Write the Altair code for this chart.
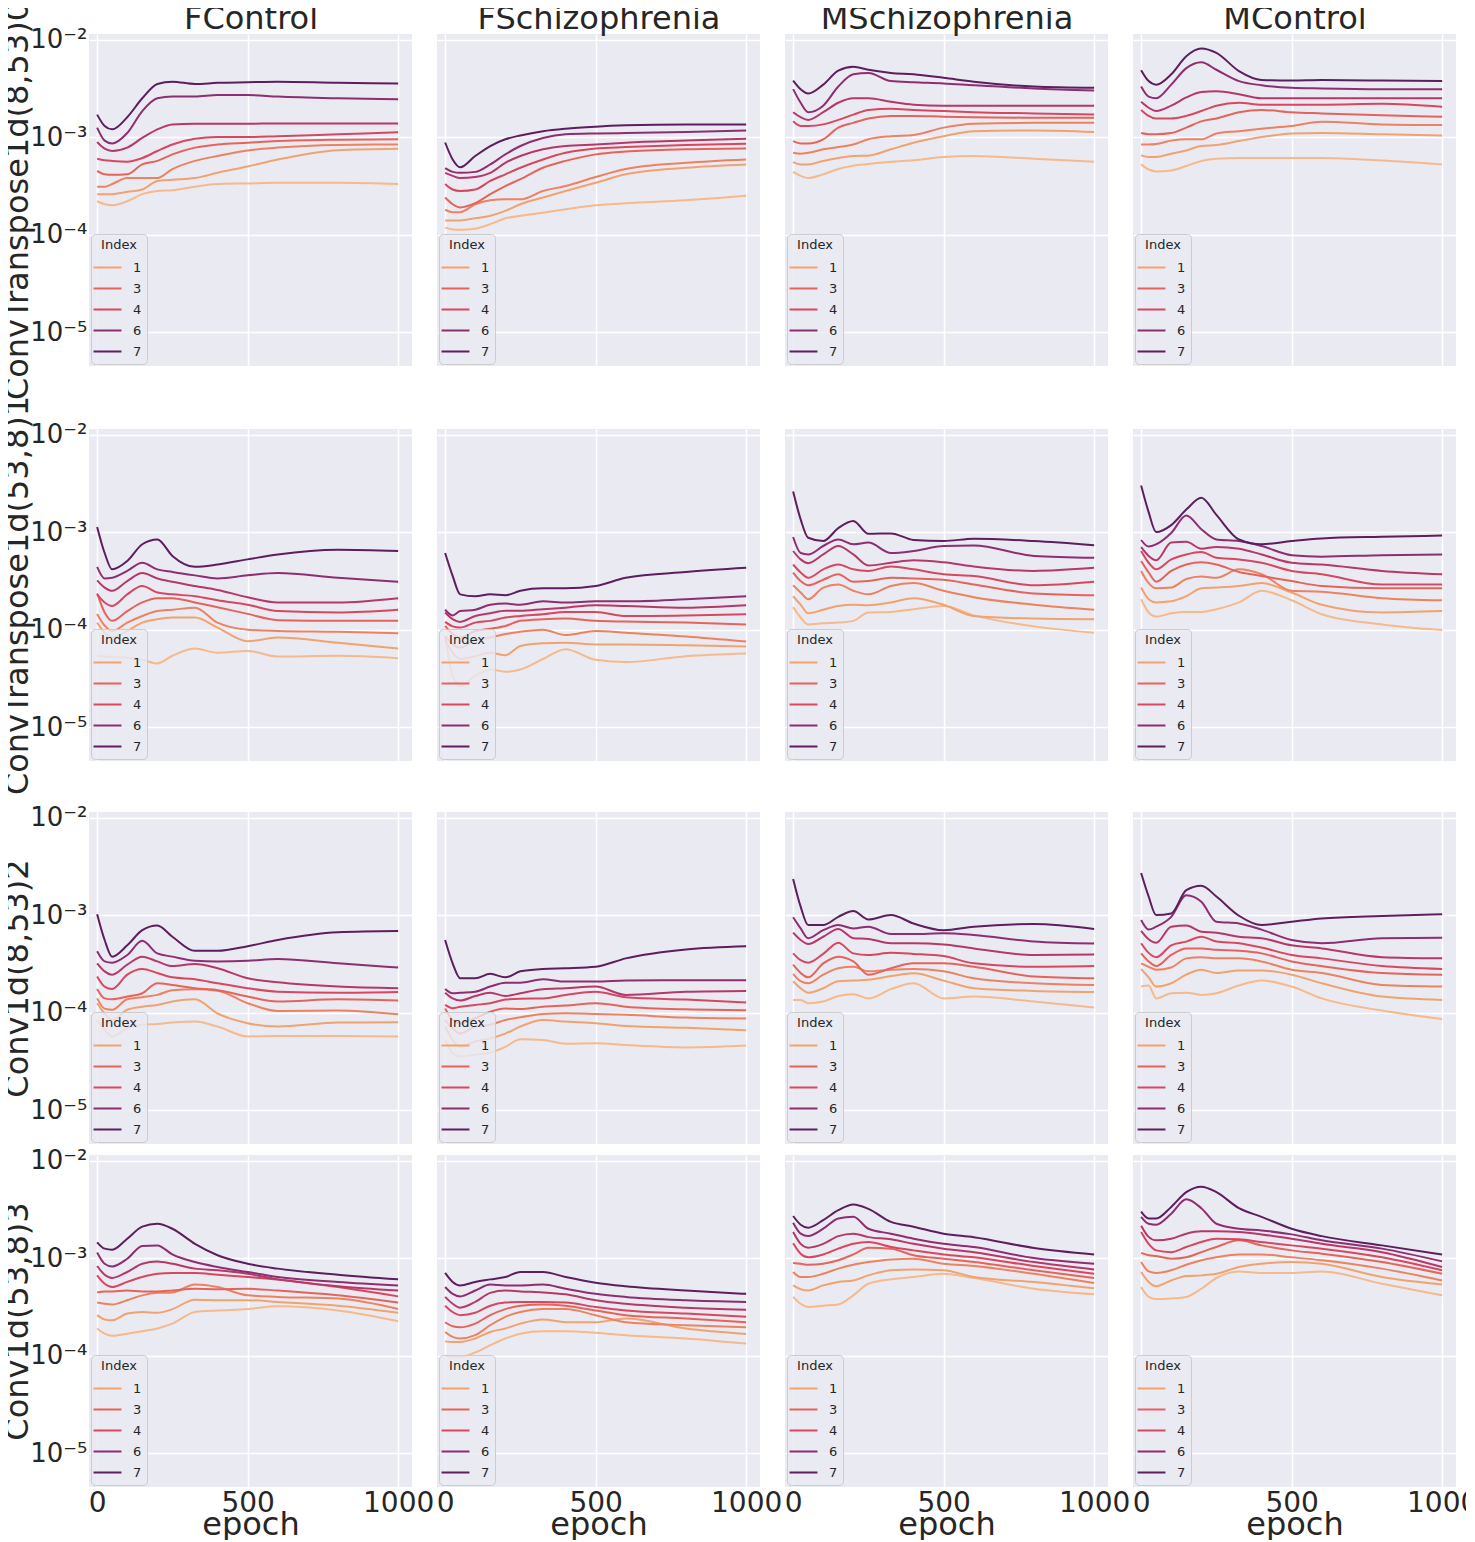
import altair as alt
import pandas as pd

# ---------------------------------------------------------------- labels
COLUMNS = ["FControl", "FSchizophrenia", "MSchizophrenia", "MControl"]
LAYERS = ["ConvTranspose1d(8,53)0", "ConvTranspose1d(53,8)1", "Conv1d(8,53)2", "Conv1d(53,8)3"]
EPOCHS = [0, 25, 50, 100, 150, 200, 250, 325, 400, 500, 600, 800, 1000]
INDEX_LEVELS = [0, 1, 2, 3, 4, 5, 6, 7]
LEGEND_VALUES = [1, 3, 4, 6, 7]
PALETTE = ["#f5b98b", "#f2a26f", "#ed8160", "#e6635a", "#d8465f", "#b73768", "#8e2d70", "#5c1e5d"]
X_TICKS = [0, 500, 1000]
Y_TICKS = [1e-5, 1e-4, 1e-3, 1e-2]
Y_TICK_LABELS = ["10⁻⁵", "10⁻⁴", "10⁻³", "10⁻²"]
Y_DOMAIN = [4.5e-6, 1.14e-2]
X_DOMAIN = [-27, 1046]

# ---------------------------------------------------------------- data (Index -> values at EPOCHS)
L0_FControl = {
    0: [2.2e-4, 2.05e-4, 2.0e-4, 2.2e-4, 2.6e-4, 2.8e-4, 2.85e-4, 3.1e-4, 3.3e-4, 3.35e-4, 3.4e-4, 3.4e-4, 3.3e-4],
    1: [2.6e-4, 2.6e-4, 2.6e-4, 2.75e-4, 2.9e-4, 3.55e-4, 3.65e-4, 3.8e-4, 4.3e-4, 5.0e-4, 5.9e-4, 7.35e-4, 7.6e-4],
    2: [3.1e-4, 3.1e-4, 3.3e-4, 3.8e-4, 3.8e-4, 3.8e-4, 4.7e-4, 5.7e-4, 6.4e-4, 7.3e-4, 7.8e-4, 8.3e-4, 8.4e-4],
    3: [4.5e-4, 4.15e-4, 4.1e-4, 4.15e-4, 5.25e-4, 5.7e-4, 6.65e-4, 7.8e-4, 8.4e-4, 8.75e-4, 9.1e-4, 9.4e-4, 9.5e-4],
    4: [6.0e-4, 5.8e-4, 5.7e-4, 5.6e-4, 6.1e-4, 7.2e-4, 8.4e-4, 9.6e-4, 1.0e-3, 1.0e-3, 1.02e-3, 1.07e-3, 1.12e-3],
    5: [8.9e-4, 7.6e-4, 7.2e-4, 7.8e-4, 9.8e-4, 1.2e-3, 1.35e-3, 1.37e-3, 1.37e-3, 1.37e-3, 1.38e-3, 1.38e-3, 1.38e-3],
    6: [1.25e-3, 9.2e-4, 8.6e-4, 1.1e-3, 1.85e-3, 2.5e-3, 2.6e-3, 2.6e-3, 2.7e-3, 2.7e-3, 2.6e-3, 2.5e-3, 2.45e-3],
    7: [1.7e-3, 1.3e-3, 1.2e-3, 1.6e-3, 2.5e-3, 3.5e-3, 3.7e-3, 3.5e-3, 3.6e-3, 3.65e-3, 3.7e-3, 3.6e-3, 3.55e-3],
}
L0_FSchizophrenia = {
    0: [1.18e-4, 1.13e-4, 1.12e-4, 1.15e-4, 1.28e-4, 1.47e-4, 1.56e-4, 1.68e-4, 1.82e-4, 2.0e-4, 2.1e-4, 2.25e-4, 2.5e-4],
    1: [1.4e-4, 1.4e-4, 1.4e-4, 1.47e-4, 1.56e-4, 1.75e-4, 2.05e-4, 2.4e-4, 2.8e-4, 3.4e-4, 4.15e-4, 4.85e-4, 5.25e-4],
    2: [1.8e-4, 1.7e-4, 1.7e-4, 2.05e-4, 2.25e-4, 2.3e-4, 2.3e-4, 2.8e-4, 3.15e-4, 3.9e-4, 4.7e-4, 5.45e-4, 5.9e-4],
    3: [2.4e-4, 2.05e-4, 1.9e-4, 2.1e-4, 2.6e-4, 3.15e-4, 3.7e-4, 4.85e-4, 5.7e-4, 6.65e-4, 7.1e-4, 7.5e-4, 7.65e-4],
    4: [3.3e-4, 2.9e-4, 2.8e-4, 2.9e-4, 3.55e-4, 4.15e-4, 4.85e-4, 5.9e-4, 6.9e-4, 7.65e-4, 7.9e-4, 8.3e-4, 8.55e-4],
    5: [4.3e-4, 4.0e-4, 3.8e-4, 3.9e-4, 4.3e-4, 5.45e-4, 6.4e-4, 7.5e-4, 8.1e-4, 8.4e-4, 8.75e-4, 9.2e-4, 9.6e-4],
    6: [4.8e-4, 4.4e-4, 4.3e-4, 4.4e-4, 5.25e-4, 6.65e-4, 8.1e-4, 9.8e-4, 1.07e-3, 1.09e-3, 1.1e-3, 1.13e-3, 1.17e-3],
    7: [8.8e-4, 5.9e-4, 4.9e-4, 6.4e-4, 8.1e-4, 9.5e-4, 1.04e-3, 1.15e-3, 1.22e-3, 1.28e-3, 1.32e-3, 1.35e-3, 1.35e-3],
}
L0_MSchizophrenia = {
    0: [4.4e-4, 4.0e-4, 3.8e-4, 4.15e-4, 4.7e-4, 5.1e-4, 5.3e-4, 5.6e-4, 5.8e-4, 6.25e-4, 6.4e-4, 6.0e-4, 5.6e-4],
    1: [5.55e-4, 5.25e-4, 5.25e-4, 5.7e-4, 6.1e-4, 6.4e-4, 6.45e-4, 7.5e-4, 8.75e-4, 1.02e-3, 1.15e-3, 1.17e-3, 1.13e-3],
    2: [6.9e-4, 6.75e-4, 6.9e-4, 7.5e-4, 7.9e-4, 8.4e-4, 9.5e-4, 1.02e-3, 1.05e-3, 1.25e-3, 1.37e-3, 1.4e-3, 1.4e-3],
    3: [9.1e-4, 8.6e-4, 8.6e-4, 9.5e-4, 1.25e-3, 1.4e-3, 1.55e-3, 1.65e-3, 1.65e-3, 1.62e-3, 1.6e-3, 1.58e-3, 1.58e-3],
    4: [1.45e-3, 1.3e-3, 1.3e-3, 1.35e-3, 1.5e-3, 1.7e-3, 1.9e-3, 1.95e-3, 1.9e-3, 1.85e-3, 1.8e-3, 1.75e-3, 1.7e-3],
    5: [1.8e-3, 1.6e-3, 1.5e-3, 1.8e-3, 2.25e-3, 2.5e-3, 2.5e-3, 2.3e-3, 2.15e-3, 2.1e-3, 2.1e-3, 2.1e-3, 2.1e-3],
    6: [3.1e-3, 2.25e-3, 1.8e-3, 2.1e-3, 3.3e-3, 4.4e-3, 4.55e-3, 3.75e-3, 3.65e-3, 3.55e-3, 3.4e-3, 3.15e-3, 3.0e-3],
    7: [3.8e-3, 3.1e-3, 2.8e-3, 3.45e-3, 4.8e-3, 5.25e-3, 4.9e-3, 4.55e-3, 4.4e-3, 4.05e-3, 3.7e-3, 3.3e-3, 3.2e-3],
}
L0_MControl = {
    0: [5.25e-4, 4.65e-4, 4.45e-4, 4.55e-4, 5.05e-4, 5.7e-4, 6.0e-4, 6.1e-4, 6.1e-4, 6.1e-4, 6.1e-4, 5.75e-4, 5.25e-4],
    1: [6.5e-4, 6.25e-4, 6.25e-4, 6.75e-4, 7.3e-4, 8.1e-4, 8.3e-4, 9.1e-4, 1.0e-3, 1.09e-3, 1.1e-3, 1.07e-3, 1.04e-3],
    2: [8.4e-4, 8.4e-4, 8.5e-4, 9.2e-4, 9.5e-4, 9.5e-4, 1.09e-3, 1.15e-3, 1.22e-3, 1.3e-3, 1.44e-3, 1.35e-3, 1.33e-3],
    3: [1.1e-3, 1.07e-3, 1.07e-3, 1.1e-3, 1.25e-3, 1.45e-3, 1.55e-3, 1.8e-3, 1.9e-3, 1.8e-3, 1.75e-3, 1.67e-3, 1.62e-3],
    4: [1.9e-3, 1.65e-3, 1.55e-3, 1.55e-3, 1.65e-3, 1.85e-3, 2.1e-3, 2.25e-3, 2.15e-3, 2.15e-3, 2.15e-3, 2.2e-3, 2.05e-3],
    5: [2.3e-3, 2.0e-3, 1.85e-3, 2.1e-3, 2.55e-3, 2.9e-3, 2.95e-3, 2.75e-3, 2.5e-3, 2.5e-3, 2.5e-3, 2.5e-3, 2.5e-3],
    6: [3.3e-3, 2.6e-3, 2.5e-3, 3.45e-3, 5.1e-3, 5.85e-3, 4.9e-3, 3.75e-3, 3.4e-3, 3.2e-3, 3.15e-3, 3.1e-3, 3.1e-3],
    7: [4.85e-3, 3.75e-3, 3.45e-3, 4.4e-3, 6.75e-3, 8.1e-3, 7.3e-3, 4.75e-3, 3.85e-3, 3.8e-3, 3.85e-3, 3.8e-3, 3.75e-3],
}

L1_FControl = {
    0: [5.4e-5, 5.3e-5, 5.25e-5, 5.15e-5, 4.9e-5, 4.5e-5, 5.4e-5, 6.4e-5, 5.8e-5, 6.05e-5, 5.3e-5, 5.4e-5, 5.1e-5],
    1: [1.18e-4, 9.3e-5, 8.3e-5, 9.7e-5, 1.18e-4, 1.28e-4, 1.33e-4, 1.33e-4, 1.05e-4, 7.6e-5, 8.3e-5, 7.35e-5, 6.4e-5],
    2: [1.45e-4, 1.1e-4, 9.7e-5, 1.18e-4, 1.38e-4, 1.55e-4, 1.6e-4, 1.68e-4, 1.18e-4, 1.0e-4, 9.7e-5, 9.5e-5, 9.2e-5],
    3: [2.35e-4, 1.5e-4, 1.23e-4, 1.55e-4, 1.9e-4, 2.1e-4, 2.1e-4, 1.9e-4, 1.7e-4, 1.45e-4, 1.25e-4, 1.23e-4, 1.23e-4],
    4: [2.3e-4, 1.9e-4, 1.75e-4, 2.3e-4, 2.8e-4, 2.4e-4, 2.3e-4, 2.2e-4, 2.0e-4, 1.8e-4, 1.55e-4, 1.5e-4, 1.6e-4],
    5: [3.2e-4, 2.7e-4, 2.5e-4, 3.15e-4, 3.8e-4, 3.35e-4, 3.1e-4, 2.8e-4, 2.55e-4, 2.15e-4, 1.9e-4, 1.9e-4, 2.1e-4],
    6: [4.4e-4, 3.35e-4, 3.4e-4, 4.0e-4, 4.85e-4, 4.15e-4, 3.9e-4, 3.6e-4, 3.35e-4, 3.6e-4, 3.8e-4, 3.4e-4, 3.1e-4],
    7: [1.13e-3, 6.1e-4, 4.15e-4, 5.05e-4, 7.5e-4, 8.4e-4, 5.7e-4, 4.4e-4, 4.65e-4, 5.25e-4, 5.9e-4, 6.6e-4, 6.4e-4],
}
L1_FSchizophrenia = {
    0: [8.6e-5, 3.35e-5, 2.65e-5, 3.35e-5, 3.9e-5, 3.7e-5, 3.9e-5, 5.0e-5, 6.3e-5, 4.9e-5, 4.65e-5, 5.35e-5, 5.7e-5],
    1: [7.95e-5, 5.8e-5, 5.0e-5, 5.35e-5, 5.8e-5, 5.45e-5, 6.8e-5, 7.25e-5, 7.35e-5, 7.05e-5, 7.05e-5, 6.9e-5, 6.7e-5],
    2: [8.6e-5, 7.1e-5, 6.55e-5, 7.85e-5, 8.3e-5, 9.0e-5, 9.5e-5, 1.0e-4, 8.8e-5, 9.7e-5, 9.3e-5, 8.5e-5, 7.55e-5],
    3: [1.09e-4, 9.0e-5, 8.3e-5, 9.7e-5, 1.02e-4, 1.09e-4, 1.23e-4, 1.28e-4, 1.3e-4, 1.23e-4, 1.21e-4, 1.18e-4, 1.13e-4],
    4: [1.2e-4, 1.08e-4, 1.05e-4, 1.18e-4, 1.23e-4, 1.33e-4, 1.38e-4, 1.44e-4, 1.52e-4, 1.52e-4, 1.38e-4, 1.4e-4, 1.44e-4],
    5: [1.5e-4, 1.28e-4, 1.2e-4, 1.38e-4, 1.47e-4, 1.56e-4, 1.56e-4, 1.62e-4, 1.68e-4, 1.78e-4, 1.75e-4, 1.68e-4, 1.78e-4],
    6: [1.6e-4, 1.4e-4, 1.55e-4, 1.6e-4, 1.8e-4, 1.85e-4, 1.8e-4, 1.95e-4, 1.9e-4, 1.95e-4, 1.95e-4, 2.05e-4, 2.2e-4],
    7: [6.1e-4, 3.55e-4, 2.3e-4, 2.2e-4, 2.3e-4, 2.25e-4, 2.5e-4, 2.65e-4, 2.65e-4, 2.8e-4, 3.4e-4, 3.9e-4, 4.3e-4],
}
L1_MSchizophrenia = {
    0: [1.7e-4, 1.33e-4, 1.13e-4, 1.16e-4, 1.18e-4, 1.23e-4, 1.5e-4, 1.52e-4, 1.62e-4, 1.75e-4, 1.4e-4, 1.08e-4, 9.3e-5],
    1: [2.2e-4, 1.8e-4, 1.47e-4, 1.6e-4, 1.75e-4, 1.8e-4, 1.78e-4, 1.9e-4, 2.1e-4, 1.8e-4, 1.38e-4, 1.3e-4, 1.28e-4],
    2: [2.85e-4, 2.4e-4, 2.05e-4, 2.7e-4, 2.9e-4, 2.5e-4, 2.3e-4, 2.8e-4, 3.0e-4, 2.5e-4, 2.15e-4, 1.8e-4, 1.6e-4],
    3: [3.85e-4, 3.15e-4, 2.85e-4, 3.25e-4, 3.7e-4, 3.1e-4, 3.15e-4, 3.4e-4, 3.35e-4, 3.25e-4, 2.9e-4, 2.35e-4, 2.25e-4],
    4: [4.65e-4, 3.85e-4, 3.4e-4, 4.15e-4, 4.65e-4, 4.15e-4, 4.0e-4, 4.45e-4, 4.15e-4, 3.7e-4, 3.55e-4, 2.85e-4, 3.1e-4],
    5: [6.4e-4, 5.25e-4, 4.8e-4, 5.9e-4, 7.2e-4, 5.9e-4, 4.55e-4, 4.85e-4, 5.15e-4, 4.9e-4, 4.45e-4, 4.0e-4, 4.3e-4],
    6: [8.9e-4, 6.1e-4, 5.9e-4, 7.2e-4, 8.4e-4, 7.5e-4, 7.8e-4, 6.1e-4, 6.4e-4, 7.2e-4, 7.3e-4, 5.7e-4, 5.45e-4],
    7: [2.6e-3, 1.35e-3, 8.75e-4, 8.1e-4, 1.1e-3, 1.3e-3, 9.6e-4, 9.7e-4, 8.3e-4, 8.1e-4, 8.55e-4, 8.1e-4, 7.35e-4],
}
L1_MControl = {
    0: [2.05e-4, 1.5e-4, 1.36e-4, 1.47e-4, 1.52e-4, 1.52e-4, 1.62e-4, 1.9e-4, 2.5e-4, 2.0e-4, 1.44e-4, 1.13e-4, 9.9e-5],
    1: [2.7e-4, 2.05e-4, 1.9e-4, 1.95e-4, 2.2e-4, 2.65e-4, 2.7e-4, 2.8e-4, 3.0e-4, 2.4e-4, 1.8e-4, 1.5e-4, 1.55e-4],
    2: [4.0e-4, 3.0e-4, 2.65e-4, 2.7e-4, 3.3e-4, 3.5e-4, 3.4e-4, 4.15e-4, 3.7e-4, 2.5e-4, 2.45e-4, 2.1e-4, 2.0e-4],
    3: [5.05e-4, 3.85e-4, 3.1e-4, 4.0e-4, 4.65e-4, 4.9e-4, 4.65e-4, 3.9e-4, 3.55e-4, 3.15e-4, 2.8e-4, 2.65e-4, 2.65e-4],
    4: [6.4e-4, 4.85e-4, 4.15e-4, 5.25e-4, 5.9e-4, 6.25e-4, 5.45e-4, 5.25e-4, 4.85e-4, 4.0e-4, 3.7e-4, 2.9e-4, 2.9e-4],
    5: [7.0e-4, 5.7e-4, 5.15e-4, 7.8e-4, 7.95e-4, 6.75e-4, 7.05e-4, 6.75e-4, 5.9e-4, 4.85e-4, 4.65e-4, 4.0e-4, 3.7e-4],
    6: [8.3e-4, 7.1e-4, 7.5e-4, 9.8e-4, 1.48e-3, 1.07e-3, 8.4e-4, 8.1e-4, 7.2e-4, 5.8e-4, 5.6e-4, 5.8e-4, 5.9e-4],
    7: [3.0e-3, 1.6e-3, 1.0e-3, 1.18e-3, 1.7e-3, 2.25e-3, 1.5e-3, 8.4e-4, 7.5e-4, 8.1e-4, 8.6e-4, 8.95e-4, 9.2e-4],
}

L2_FControl = {
    0: [8.4e-5, 6.65e-5, 5.7e-5, 6.9e-5, 7.5e-5, 7.65e-5, 7.9e-5, 8.1e-5, 7.2e-5, 5.7e-5, 5.75e-5, 5.75e-5, 5.7e-5],
    1: [1.25e-4, 9.8e-5, 8.4e-5, 1.07e-4, 1.15e-4, 1.2e-4, 1.3e-4, 1.37e-4, 9.8e-5, 7.8e-5, 7.2e-5, 7.9e-5, 7.95e-5],
    2: [1.4e-4, 1.1e-4, 1.07e-4, 1.37e-4, 1.44e-4, 1.52e-4, 1.7e-4, 1.74e-4, 1.68e-4, 1.25e-4, 1.04e-4, 1.05e-4, 9.6e-5],
    3: [1.75e-4, 1.4e-4, 1.37e-4, 1.46e-4, 1.58e-4, 2.0e-4, 1.92e-4, 1.78e-4, 1.7e-4, 1.46e-4, 1.3e-4, 1.37e-4, 1.33e-4],
    4: [2.35e-4, 1.85e-4, 1.75e-4, 2.45e-4, 2.8e-4, 2.55e-4, 2.3e-4, 2.2e-4, 2.0e-4, 1.78e-4, 1.64e-4, 1.6e-4, 1.63e-4],
    5: [3.2e-4, 2.65e-4, 2.45e-4, 3.1e-4, 3.75e-4, 3.35e-4, 3.0e-4, 3.15e-4, 2.85e-4, 2.25e-4, 2.05e-4, 1.85e-4, 1.78e-4],
    6: [4.25e-4, 3.35e-4, 3.25e-4, 3.9e-4, 5.45e-4, 4.05e-4, 3.75e-4, 3.4e-4, 3.35e-4, 3.4e-4, 3.55e-4, 3.2e-4, 2.9e-4],
    7: [1.02e-3, 5.55e-4, 3.75e-4, 4.9e-4, 7.0e-4, 7.8e-4, 6.0e-4, 4.3e-4, 4.3e-4, 4.8e-4, 5.55e-4, 6.65e-4, 6.85e-4],
}
L2_FSchizophrenia = {
    0: [5.25e-5, 3.85e-5, 3.55e-5, 3.7e-5, 3.9e-5, 4.45e-5, 5.35e-5, 5.25e-5, 4.8e-5, 4.85e-5, 4.65e-5, 4.4e-5, 4.6e-5],
    1: [7.2e-5, 5.25e-5, 4.45e-5, 5.05e-5, 5.45e-5, 6.1e-5, 7.2e-5, 8.4e-5, 8.1e-5, 7.8e-5, 7.3e-5, 7.0e-5, 6.6e-5],
    2: [8.4e-5, 6.9e-5, 6.1e-5, 7.2e-5, 7.5e-5, 8.4e-5, 8.95e-5, 9.7e-5, 9.85e-5, 9.7e-5, 9.5e-5, 8.9e-5, 8.7e-5],
    3: [1.1e-4, 8.4e-5, 7.8e-5, 8.75e-5, 1.02e-4, 1.1e-4, 1.09e-4, 1.15e-4, 1.18e-4, 1.25e-4, 1.15e-4, 1.08e-4, 1.06e-4],
    4: [1.2e-4, 1.11e-4, 1.15e-4, 1.2e-4, 1.25e-4, 1.36e-4, 1.39e-4, 1.4e-4, 1.52e-4, 1.64e-4, 1.44e-4, 1.36e-4, 1.27e-4],
    5: [1.6e-4, 1.4e-4, 1.33e-4, 1.48e-4, 1.6e-4, 1.48e-4, 1.58e-4, 1.74e-4, 1.78e-4, 1.85e-4, 1.52e-4, 1.64e-4, 1.67e-4],
    6: [1.75e-4, 1.58e-4, 1.6e-4, 1.64e-4, 1.85e-4, 2.03e-4, 2.03e-4, 2.2e-4, 2.08e-4, 2.08e-4, 2.13e-4, 2.15e-4, 2.15e-4],
    7: [5.55e-4, 3.2e-4, 2.25e-4, 2.25e-4, 2.5e-4, 2.3e-4, 2.65e-4, 2.8e-4, 2.85e-4, 2.95e-4, 3.6e-4, 4.45e-4, 4.8e-4],
}
L2_MSchizophrenia = {
    0: [1.35e-4, 1.35e-4, 1.25e-4, 1.3e-4, 1.48e-4, 1.54e-4, 1.4e-4, 1.74e-4, 2.0e-4, 1.4e-4, 1.46e-4, 1.3e-4, 1.13e-4],
    1: [2.1e-4, 1.78e-4, 1.6e-4, 1.78e-4, 2.1e-4, 2.13e-4, 2.17e-4, 2.37e-4, 2.53e-4, 2.13e-4, 1.78e-4, 1.67e-4, 1.63e-4],
    2: [2.5e-4, 2.1e-4, 2.0e-4, 2.45e-4, 2.85e-4, 2.95e-4, 2.65e-4, 2.75e-4, 2.8e-4, 2.65e-4, 2.25e-4, 2.0e-4, 1.92e-4],
    3: [3.1e-4, 2.55e-4, 2.3e-4, 3.2e-4, 3.75e-4, 3.35e-4, 2.45e-4, 2.85e-4, 3.2e-4, 3.2e-4, 2.95e-4, 2.35e-4, 2.25e-4],
    4: [4.05e-4, 3.45e-4, 3.25e-4, 4.0e-4, 5.2e-4, 4.05e-4, 3.9e-4, 4.1e-4, 4.0e-4, 3.8e-4, 3.2e-4, 2.95e-4, 3.0e-4],
    5: [6.6e-4, 5.55e-4, 5.05e-4, 6.0e-4, 7.2e-4, 5.8e-4, 5.7e-4, 5.15e-4, 5.15e-4, 5.0e-4, 4.55e-4, 3.9e-4, 3.95e-4],
    6: [9.5e-4, 7.3e-4, 5.8e-4, 7.0e-4, 7.9e-4, 7.3e-4, 7.6e-4, 6.4e-4, 6.4e-4, 6.5e-4, 6.25e-4, 5.35e-4, 5.1e-4],
    7: [2.35e-3, 1.22e-3, 7.9e-4, 7.9e-4, 9.6e-4, 1.1e-3, 9.0e-4, 1.0e-3, 8.2e-4, 7.0e-4, 7.6e-4, 8.1e-4, 7.2e-4],
}
L2_MControl = {
    0: [1.85e-4, 1.9e-4, 1.4e-4, 1.58e-4, 1.6e-4, 1.52e-4, 1.58e-4, 1.9e-4, 2.13e-4, 1.85e-4, 1.4e-4, 1.05e-4, 8.6e-5],
    1: [2.8e-4, 2.3e-4, 1.85e-4, 2.0e-4, 2.45e-4, 2.75e-4, 2.55e-4, 2.7e-4, 2.7e-4, 2.45e-4, 2.0e-4, 1.46e-4, 1.35e-4],
    2: [3.2e-4, 2.95e-4, 2.75e-4, 2.9e-4, 3.6e-4, 3.7e-4, 3.6e-4, 3.6e-4, 3.35e-4, 2.75e-4, 2.55e-4, 1.92e-4, 1.85e-4],
    3: [4.05e-4, 3.35e-4, 3.0e-4, 3.9e-4, 4.55e-4, 4.55e-4, 4.4e-4, 4.3e-4, 4.05e-4, 3.35e-4, 3.0e-4, 2.55e-4, 2.45e-4],
    4: [5.15e-4, 4.1e-4, 3.7e-4, 4.9e-4, 5.35e-4, 6.0e-4, 5.35e-4, 5.15e-4, 4.65e-4, 3.9e-4, 3.6e-4, 3.0e-4, 2.8e-4],
    5: [6.9e-4, 5.65e-4, 5.2e-4, 7.6e-4, 7.8e-4, 6.75e-4, 6.6e-4, 6.0e-4, 5.8e-4, 4.9e-4, 4.55e-4, 3.7e-4, 3.6e-4],
    6: [8.9e-4, 7.1e-4, 7.6e-4, 9.6e-4, 1.6e-3, 1.37e-3, 8.55e-4, 8.2e-4, 7.1e-4, 5.55e-4, 5.15e-4, 5.8e-4, 5.85e-4],
    7: [2.7e-3, 1.55e-3, 1.0e-3, 1.04e-3, 1.8e-3, 2.0e-3, 1.55e-3, 9.85e-4, 7.9e-4, 8.55e-4, 9.25e-4, 9.8e-4, 1.02e-3],
}

L3_FControl = {
    0: [1.9e-4, 1.68e-4, 1.6e-4, 1.68e-4, 1.78e-4, 1.9e-4, 2.13e-4, 2.8e-4, 2.9e-4, 3.0e-4, 3.2e-4, 2.9e-4, 2.25e-4],
    1: [2.6e-4, 2.35e-4, 2.3e-4, 2.7e-4, 2.8e-4, 2.75e-4, 3.0e-4, 3.75e-4, 3.7e-4, 3.7e-4, 3.55e-4, 3.25e-4, 2.75e-4],
    2: [3.5e-4, 3.4e-4, 3.35e-4, 3.7e-4, 4.15e-4, 4.4e-4, 4.45e-4, 5.35e-4, 5.05e-4, 4.15e-4, 4.0e-4, 3.85e-4, 3.0e-4],
    3: [4.45e-4, 4.55e-4, 4.55e-4, 4.65e-4, 4.55e-4, 4.55e-4, 4.65e-4, 4.85e-4, 4.8e-4, 4.85e-4, 4.65e-4, 4.15e-4, 3.5e-4],
    4: [6.65e-4, 5.45e-4, 5.05e-4, 5.7e-4, 6.4e-4, 6.9e-4, 7.05e-4, 7.05e-4, 6.75e-4, 6.4e-4, 6.05e-4, 5.05e-4, 4.05e-4],
    5: [8.3e-4, 6.75e-4, 6.25e-4, 7.2e-4, 8.75e-4, 9.25e-4, 8.75e-4, 7.8e-4, 7.5e-4, 6.9e-4, 6.05e-4, 5.15e-4, 4.65e-4],
    6: [1.14e-3, 8.75e-4, 8.2e-4, 9.85e-4, 1.33e-3, 1.35e-3, 1.09e-3, 9.1e-4, 8.1e-4, 7.2e-4, 6.4e-4, 5.7e-4, 5.25e-4],
    7: [1.45e-3, 1.25e-3, 1.22e-3, 1.58e-3, 2.1e-3, 2.25e-3, 2.0e-3, 1.4e-3, 1.07e-3, 8.75e-4, 7.8e-4, 6.75e-4, 6.05e-4],
}
L3_FSchizophrenia = {
    0: [1.0e-4, 9.7e-5, 9.7e-5, 1.08e-4, 1.28e-4, 1.5e-4, 1.68e-4, 1.78e-4, 1.78e-4, 1.72e-4, 1.62e-4, 1.5e-4, 1.33e-4],
    1: [1.4e-4, 1.38e-4, 1.38e-4, 1.5e-4, 1.75e-4, 1.9e-4, 2.13e-4, 2.35e-4, 2.2e-4, 2.2e-4, 2.4e-4, 1.9e-4, 1.67e-4],
    2: [1.75e-4, 1.56e-4, 1.5e-4, 1.62e-4, 2.05e-4, 2.5e-4, 2.8e-4, 3.0e-4, 3.0e-4, 2.6e-4, 2.2e-4, 2.05e-4, 1.95e-4],
    3: [2.2e-4, 2.0e-4, 1.95e-4, 2.13e-4, 2.6e-4, 3.0e-4, 3.25e-4, 3.35e-4, 3.25e-4, 2.9e-4, 2.6e-4, 2.4e-4, 2.2e-4],
    4: [3.25e-4, 2.8e-4, 2.6e-4, 2.75e-4, 3.25e-4, 3.5e-4, 3.55e-4, 3.55e-4, 3.5e-4, 3.15e-4, 2.9e-4, 2.7e-4, 2.5e-4],
    5: [4.0e-4, 3.4e-4, 3.1e-4, 3.55e-4, 4.4e-4, 4.65e-4, 4.55e-4, 4.45e-4, 4.25e-4, 3.7e-4, 3.4e-4, 3.1e-4, 2.95e-4],
    6: [5.05e-4, 4.3e-4, 4.05e-4, 4.65e-4, 5.35e-4, 5.25e-4, 5.25e-4, 5.35e-4, 4.85e-4, 4.3e-4, 4.0e-4, 3.7e-4, 3.55e-4],
    7: [7.05e-4, 5.7e-4, 5.25e-4, 5.7e-4, 6.05e-4, 6.4e-4, 7.2e-4, 7.2e-4, 6.4e-4, 5.6e-4, 5.15e-4, 4.65e-4, 4.3e-4],
}
L3_MSchizophrenia = {
    0: [4.0e-4, 3.4e-4, 3.15e-4, 3.25e-4, 3.35e-4, 4.15e-4, 5.45e-4, 6.05e-4, 6.4e-4, 6.9e-4, 6.25e-4, 4.85e-4, 4.25e-4],
    1: [5.25e-4, 4.8e-4, 4.65e-4, 5.25e-4, 5.7e-4, 5.9e-4, 6.65e-4, 7.5e-4, 7.65e-4, 7.5e-4, 6.4e-4, 5.7e-4, 4.9e-4],
    2: [7.2e-4, 6.4e-4, 6.4e-4, 6.9e-4, 7.8e-4, 8.55e-4, 9.1e-4, 9.7e-4, 9.85e-4, 8.75e-4, 8.3e-4, 6.9e-4, 5.55e-4],
    3: [8.9e-4, 8.75e-4, 8.55e-4, 8.75e-4, 9.5e-4, 1.09e-3, 1.28e-3, 1.25e-3, 1.07e-3, 9.85e-4, 9.1e-4, 7.5e-4, 6.25e-4],
    4: [1.42e-3, 1.11e-3, 1.02e-3, 1.09e-3, 1.25e-3, 1.4e-3, 1.46e-3, 1.3e-3, 1.2e-3, 1.09e-3, 1.02e-3, 8.3e-4, 6.9e-4],
    5: [1.85e-3, 1.4e-3, 1.28e-3, 1.4e-3, 1.68e-3, 1.78e-3, 1.64e-3, 1.56e-3, 1.4e-3, 1.25e-3, 1.15e-3, 9.1e-4, 7.65e-4],
    6: [2.3e-3, 1.78e-3, 1.68e-3, 2.0e-3, 2.55e-3, 2.65e-3, 2.0e-3, 1.78e-3, 1.58e-3, 1.4e-3, 1.3e-3, 1.0e-3, 8.75e-4],
    7: [2.7e-3, 2.2e-3, 2.05e-3, 2.45e-3, 3.1e-3, 3.55e-3, 3.2e-3, 2.35e-3, 2.1e-3, 1.78e-3, 1.64e-3, 1.27e-3, 1.09e-3],
}
L3_MControl = {
    0: [5.05e-4, 4.0e-4, 3.8e-4, 3.85e-4, 4.0e-4, 4.85e-4, 6.25e-4, 7.3e-4, 7.05e-4, 7.05e-4, 7.3e-4, 5.45e-4, 4.15e-4],
    1: [7.2e-4, 5.7e-4, 5.15e-4, 5.9e-4, 6.55e-4, 6.65e-4, 6.9e-4, 8.1e-4, 8.75e-4, 9.1e-4, 8.75e-4, 6.4e-4, 5.35e-4],
    2: [9.1e-4, 7.3e-4, 7.05e-4, 7.5e-4, 8.55e-4, 9.5e-4, 1.02e-3, 1.09e-3, 1.09e-3, 1.02e-3, 9.5e-4, 7.8e-4, 5.9e-4],
    3: [1.13e-3, 1.07e-3, 1.05e-3, 9.85e-4, 1.02e-3, 1.15e-3, 1.3e-3, 1.52e-3, 1.35e-3, 1.2e-3, 1.11e-3, 9.1e-4, 6.9e-4],
    4: [1.85e-3, 1.4e-3, 1.2e-3, 1.15e-3, 1.3e-3, 1.46e-3, 1.58e-3, 1.56e-3, 1.46e-3, 1.35e-3, 1.25e-3, 1.02e-3, 7.5e-4],
    5: [2.15e-3, 1.65e-3, 1.52e-3, 1.58e-3, 1.78e-3, 1.88e-3, 1.88e-3, 1.85e-3, 1.75e-3, 1.58e-3, 1.4e-3, 1.15e-3, 8.1e-4],
    6: [2.65e-3, 2.25e-3, 2.2e-3, 2.85e-3, 4.0e-3, 3.25e-3, 2.25e-3, 2.0e-3, 1.92e-3, 1.75e-3, 1.52e-3, 1.25e-3, 9.25e-4],
    7: [3.0e-3, 2.55e-3, 2.55e-3, 3.35e-3, 4.75e-3, 5.4e-3, 4.75e-3, 3.25e-3, 2.65e-3, 2.0e-3, 1.68e-3, 1.35e-3, 1.09e-3],
}

PANEL_DATA = [
    [L0_FControl, L0_FSchizophrenia, L0_MSchizophrenia, L0_MControl],
    [L1_FControl, L1_FSchizophrenia, L1_MSchizophrenia, L1_MControl],
    [L2_FControl, L2_FSchizophrenia, L2_MSchizophrenia, L2_MControl],
    [L3_FControl, L3_FSchizophrenia, L3_MSchizophrenia, L3_MControl],
]

# ---------------------------------------------------------------- style
FONT = "DejaVu Sans"
TXT = "#262626"
BG = "#EAEAF2"
PANEL_W, PANEL_H = 323, 332
COL_SPACING = 25
ROW_SPACINGS = [-5, 9, 3]

Y_LABEL_EXPR = "[" + ",".join("'%s'" % s for s in Y_TICK_LABELS) + "][round(log(datum.value)/LN10) + 5]"


def panel(r, c):
    series = PANEL_DATA[r][c]
    df = pd.DataFrame(
        [{"epoch": e, "value": v, "Index": k}
         for k, vals in series.items() for e, v in zip(EPOCHS, vals)]
    )
    first_row = r == 0
    last_row = r == len(LAYERS) - 1
    first_col = c == 0

    if first_row:
        # column header as the title of a label-less axis on top of the panel
        x_axis = alt.Axis(
            values=X_TICKS, grid=True, ticks=False, domain=False, labels=False, orient="top",
            title=COLUMNS[c], titleFontSize=32, titlePadding=-1, titleFontWeight="normal",
            titleColor=TXT,
        )
    else:
        x_axis = alt.Axis(
            values=X_TICKS, format="d", grid=True, ticks=False, domain=False,
            labels=last_row, labelFlush=False, labelOverlap=False,
            labelFontSize=28, labelPadding=2, labelColor=TXT,
            title="epoch" if last_row else None,
            titleFontSize=32, titlePadding=-8, titleFontWeight="normal", titleColor=TXT,
        )
    y_axis = alt.Axis(
        values=Y_TICKS, grid=True, ticks=False, domain=False,
        labels=first_col, labelExpr=Y_LABEL_EXPR, labelFlush=False, labelOverlap=False,
        labelFontSize=26, labelPadding=2, labelColor=TXT,
        title=LAYERS[r] if first_col else None,
        titleFontSize=32, titlePadding=-5, titleFontWeight="normal", titleColor=TXT,
    )
    legend = alt.Legend(
        values=LEGEND_VALUES, title="Index", orient="bottom-left", offset=2,
        fillColor="rgba(234,234,242,0.8)", strokeColor="#cccccc", cornerRadius=4, padding=5,
        titleFontSize=13, titleFontWeight="normal", titleColor=TXT, titleAnchor="middle",
        titlePadding=4, labelFontSize=13, labelColor=TXT, labelOffset=14,
        symbolType="M-1.33,0H1.33", symbolSize=441, symbolStrokeWidth=2, rowPadding=2,
    )
    ch = alt.Chart(df).mark_line(strokeWidth=2, interpolate="monotone", clip=True).encode(
        x=alt.X("epoch:Q", scale=alt.Scale(domain=X_DOMAIN, nice=False, zero=False), axis=x_axis),
        y=alt.Y("value:Q", scale=alt.Scale(type="log", domain=Y_DOMAIN, nice=False), axis=y_axis),
        color=alt.Color("Index:O", scale=alt.Scale(domain=INDEX_LEVELS, range=PALETTE), legend=legend),
    )
    return ch.properties(width=PANEL_W, height=PANEL_H)


def indep(ch):
    return ch.resolve_scale(color="independent").resolve_legend(color="independent")


rows = [
    indep(alt.hconcat(*[panel(r, c) for c in range(len(COLUMNS))], spacing=COL_SPACING, bounds="flush"))
    for r in range(len(LAYERS))
]

stack = rows[0]
for r in range(1, len(rows)):
    stack = indep(alt.vconcat(stack, rows[r], spacing=ROW_SPACINGS[r - 1]))

chart = stack.properties(
    padding={"left": -7, "top": -8, "right": -12, "bottom": 0},
    background="white",
).configure(font=FONT).configure_view(fill=BG, strokeWidth=0).configure_axis(
    gridColor="white", gridWidth=1.5, gridOpacity=1,
    labelFont=FONT, titleFont=FONT,
).configure_legend(labelFont=FONT, titleFont=FONT)

chart.save("out.html", embed_options={"renderer": "svg", "actions": False})
